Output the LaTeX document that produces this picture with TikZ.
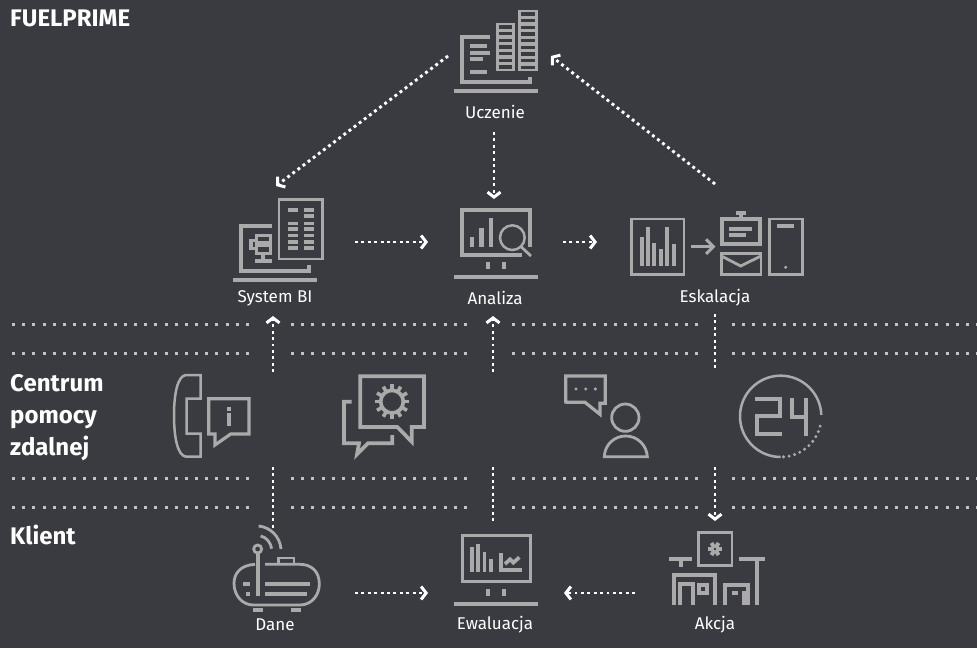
\documentclass[tikz,border=0pt]{standalone}
\usepackage{fontspec}
\setmainfont{Fira Sans}
\usetikzlibrary{arrows.meta}
\definecolor{bgc}{RGB}{58,59,64}
\definecolor{icc}{RGB}{170,170,170}
\definecolor{dotc}{RGB}{195,195,195}
\tikzset{
 ic/.style={draw=icc,line width=3.7pt,line join=miter},
 icthin/.style={draw=icc,line width=2.5pt,line join=miter},
 icf/.style={fill=icc},
 lab/.style={text=white,font=\fontsize{17}{17}\selectfont,inner sep=0pt,anchor=center},
 head/.style={text=white,font=\bfseries\fontsize{24}{24}\selectfont,inner sep=0pt,anchor=base west},
 flow/.style={draw=white,line width=2.9pt,dash pattern=on 2.9pt off 3.5pt},
 flowa/.style={flow,-{Straight Barb[length=5pt,width=13pt,line width=3pt]}},
 band/.style={draw=dotc,line width=3pt,dash pattern=on 3pt off 7.17pt},
 zm/.style={x=0.33333pt,y=-0.33333pt},
}
\begin{document}
\begin{tikzpicture}[x=1pt,y=-1pt]
\useasboundingbox (0,0) rectangle (977,648);
\fill[bgc] (0,0) rectangle (977,648);

% bands
\foreach \yy in {324.7,353.7,478.7,507.3}{
 \draw[band] (12,\yy) -- (252,\yy);
 \draw[band] (291,\yy) -- (473,\yy);
 \draw[band] (512,\yy) -- (698,\yy);
 \draw[band] (732,\yy) -- (977,\yy);
}

% headings
\node[head] (tfuel) at (10,26) {FUELPRIME};
\node[head] (tcentrum) at (10,391) {Centrum};
\node[head] (tpomocy) at (10,423) {pomocy};
\node[head] (tzdalnej) at (10,455) {zdalnej};
\node[head] (tklient) at (10,544) {Klient};

% labels
\node[lab] (uczenie) at (495,112) {Uczenie};
\node[lab] (systembi) at (275,298) {System BI};
\node[lab] (analiza) at (495,298) {Analiza};
\node[lab] (eskalacja) at (715,298) {Eskalacja};
\node[lab] (dane) at (275,625) {Dane};
\node[lab] (ewaluacja) at (495,625) {Ewaluacja};
\node[lab] (akcja) at (715,625) {Akcja};

% connector ends
\coordinate (uSW) at (448,56);
\coordinate (biN) at (276,186);
\coordinate (eN) at (715,184);
\coordinate (uNE) at (551,56);
\coordinate (uS) at (494,132);
\coordinate (aN) at (494,199);
\coordinate (biE) at (355,242);
\coordinate (aW) at (428,242);
\coordinate (aE) at (563,242);
\coordinate (eW) at (597,242);
\coordinate (dE) at (355,593);
\coordinate (ewW) at (428,593);
\coordinate (akW) at (635,593);
\coordinate (ewE) at (564,593);
\coordinate (c1a) at (273,372);
\coordinate (c1b) at (273,316);
\coordinate (c2a) at (493,372);
\coordinate (c2b) at (493,316);
\coordinate (c3a) at (715,314);
\coordinate (c3b) at (715,368);
\coordinate (d1a) at (273,467);
\coordinate (d1b) at (273,530);
\coordinate (d2a) at (493,467);
\coordinate (d2b) at (493,522);
\coordinate (d3a) at (715,467);
\coordinate (d3b) at (715,521);

\draw[flowa] (uSW) -- (biN);
\draw[flowa] (eN) -- (uNE);
\draw[flowa] (uS) -- (aN);
\draw[flowa] (biE) -- (aW);
\draw[flowa] (aE) -- (eW);
\draw[flowa] (dE) -- (ewW);
\draw[flowa] (akW) -- (ewE);
\draw[flowa] (c1a) -- (c1b);
\draw[flowa] (c2a) -- (c2b);
\draw[flow] (c3a) -- (c3b);
\draw[flow] (d1a) -- (d1b);
\draw[flow] (d2a) -- (d2b);
\draw[flowa] (d3a) -- (d3b);

% Uczenie icon
\begin{scope}[shift={(430,0)},zm]
 \draw[ic] (180,111) -- (96,111) -- (96,246) -- (300,246) -- (300,231);
 \fill[icf] (72,266) rectangle (324,279);
 \fill[icf] (120,133) rectangle (171,145);
 \fill[icf] (120,153) rectangle (180,165);
 \fill[icf] (120,172) rectangle (160,183);
 \fill[icf] (120,210) rectangle (171,222);
 \fill[icf] (198,68) rectangle (255,212);
 \fill[icf] (265,29) rectangle (323,212);
 \foreach \yy in {76,96,116,136,156,176,196}{
  \fill[bgc] (207,\yy) rectangle (246,\yy+10);
 }
 \foreach \yy in {37,57,77,97,117,137,157,177,197}{
  \fill[bgc] (274,\yy) rectangle (314,\yy+10);
 }
\end{scope}

% System BI + Analiza icons
\begin{scope}[shift={(220,190)},zm]
 \draw[ic] (155,107) -- (62,107) -- (62,242) -- (267,242) -- (267,225);
 \fill[icf] (40,264) rectangle (290,276);
 \draw[icthin] (177,29) rectangle (307,207);
 \foreach \yy in {55,95,112,131,150,168}{
  \fill[icf] (205,\yy) rectangle (235,\yy+11);
  \fill[icf] (252,\yy) rectangle (282,\yy+11);
 }
 \fill[icf] (252,72) rectangle (282,83);
 % tree
 \draw[ic,line width=3pt] (110,135) rectangle (152,158);
 \draw[ic,line width=3pt] (110,167) rectangle (152,190);
 \fill[icf] (88,146) rectangle (108,180);
 \fill[bgc] (98,156) rectangle (106,170);
 \fill[icf] (123,190) rectangle (136,207);
 \fill[icf] (105,207) rectangle (155,218);

 % Analiza
 \draw[ic] (905,195) -- (726,195) -- (726,60) -- (930,60) -- (930,170);
 \fill[icf] (750,142) rectangle (763,170);
 \fill[icf] (778,115) rectangle (791,170);
 \fill[icf] (806,85) rectangle (819,170);
 \draw[icthin] (877,143) circle[radius=37];
 \draw[ic,line width=2.8pt] (903,170) -- (933,198);
 \fill[icf] (798,217) rectangle (810,237);
 \fill[icf] (846,217) rectangle (858,237);
 \fill[icf] (702,255) rectangle (954,267);
\end{scope}

% Eskalacja icon
\begin{scope}[shift={(620,200)},zm]
 \draw[icthin] (34,57) rectangle (192,224);
 \fill[icf] (60,110) rectangle (72,197);
 \fill[icf] (78,80) rectangle (90,197);
 \fill[icf] (96,128) rectangle (108,197);
 \fill[icf] (116,147) rectangle (128,197);
 \fill[icf] (135,80) rectangle (147,197);
 \fill[icf] (155,132) rectangle (167,197);
 \draw[ic,line width=3pt] (214,140) -- (276,140);
 \draw[ic,line width=3pt] (258,118) -- (280,140) -- (258,162);
 \fill[icf] (348,33) rectangle (378,45);
 \fill[icf] (356,45) rectangle (370,60);
 \draw[ic] (306,57) rectangle (420,133);
 \fill[icf] (328,82) rectangle (395,93);
 \fill[icf] (328,100) rectangle (378,111);
 \draw[icthin,line width=2.8pt] (304,161) rectangle (423,224);
 \draw[icthin,line width=2.8pt] (304,168) -- (362,198) -- (423,168);
 \draw[icthin,line width=2.8pt] (448,57) rectangle (548,224);
 \fill[icf] (470,72) rectangle (522,84);
 \fill[icf] (497,202) circle[radius=5];
\end{scope}

% Phone + gear icons
\begin{scope}[shift={(160,365)},zm]
 \draw[icthin] (122,30) -- (78,30) .. controls (52,32) and (42,90) .. (42,150)
   .. controls (42,215) and (52,272) .. (78,275) -- (122,275) -- (122,206)
   -- (80,206) -- (80,101) -- (122,101) -- cycle;
 \draw[ic,line width=3.2pt] (146,212) -- (146,101) -- (267,101) -- (267,212) -- (267,207) -- (212,207) -- (165,240) -- (165,207) -- (146,207);
 \fill[icf] (200,125) rectangle (214,137);
 \fill[icf] (200,143) rectangle (214,183);

 \draw[ic] (601,186) -- (601,34) -- (792,34) -- (792,186) -- (755,186) -- (755,230) -- (712,186) -- cycle;
 \draw[ic] (575,110) -- (552,110) -- (552,235) -- (597,235) -- (591,268) -- (624,235) -- (697,235) -- (697,210);
 \draw[ic] (696,110) circle[radius=34];
 \foreach \a in {0,30,...,330}{
  \draw[icc,line width=3.6pt] (696,110) ++(\a:34) -- ++(\a:18);
 }
\end{scope}

% Person + clock icons
\begin{scope}[shift={(550,365)},zm]
 \draw[ic,line width=3.2pt] (47,115) -- (47,33) -- (166,33) -- (166,115) -- (150,115) -- (150,148) -- (105,112) -- (47,112);
 \foreach \xx in {78,107,136}{\fill[icf] (\xx,72) circle[radius=5];}
 \draw[icthin,line width=2.8pt] (226,158) circle[radius=41];
 \draw[icthin,line width=2.8pt] (163,275) -- (292,275) .. controls (290,240) and (262,213) .. (227,213) .. controls (192,213) and (164,240) .. (163,275) -- cycle;
 \draw[icthin] (692,276) arc[start angle=90,end angle=358,radius=122];
 \foreach \a in {14,22,...,86}{
  \fill[icf] ({692+122*cos(\a)},{154+122*sin(\a)}) circle[radius=5];
 }
 \draw[ic] (615,103) -- (690,103) -- (690,153) -- (620,153) -- (620,207) -- (695,207);
 \draw[ic] (727,98) -- (727,155) -- (768,155);
 \draw[ic] (768,98) -- (768,213);
\end{scope}

% Dane + Ewaluacja icons
\begin{scope}[shift={(220,520)},zm]
 \draw[icthin,line width=2.8pt] (105,133) .. controls (62,135) and (42,160) .. (42,190)
   .. controls (42,230) and (70,255) .. (100,255) -- (240,255)
   .. controls (275,255) and (298,225) .. (298,192) .. controls (298,155) and (275,133) .. (240,133) -- (135,133);
 \draw[icthin,line width=2.8pt] (175,131) -- (175,114) -- (222,114) -- (222,131);
 \draw[ic] (113,100) -- (113,228);
 \draw[icthin,line width=2.8pt] (113,87) circle[radius=12];
 \draw[icthin,line width=2.8pt] (122,48) .. controls (140,52) and (152,68) .. (155,86);
 \draw[icthin,line width=2.8pt] (116,18) .. controls (152,22) and (180,50) .. (183,87);
 \fill[icf] (135,186) rectangle (270,198);
 \fill[icf] (135,216) rectangle (260,228);
 \fill[icf] (70,186) rectangle (90,198);
 \fill[icf] (78,216) rectangle (90,228);
 \fill[icf] (100,265) rectangle (130,276);
 \fill[icf] (213,265) rectangle (243,276);

 \draw[ic,line width=3.2pt] (727,47) rectangle (931,185);
 \fill[icf] (750,82) rectangle (761,155);
 \fill[icf] (768,72) rectangle (779,155);
 \fill[icf] (788,95) rectangle (799,155);
 \fill[icf] (808,118) rectangle (819,155);
 \draw[ic] (842,100) -- (842,150) -- (905,150);
 \draw[ic] (855,132) -- (870,118) -- (880,128) -- (898,112);
 \fill[icf] (798,207) rectangle (810,227);
 \fill[icf] (846,207) rectangle (858,227);
 \fill[icf] (702,246) rectangle (954,258);
\end{scope}

% Akcja icon
\begin{scope}[shift={(640,520)},zm]
 \draw[icthin,line width=2.8pt] (175,37) rectangle (276,137);
 \foreach \a in {0,60,120}{
  \draw[icc,line width=4pt] (225,87) ++(\a:-21) -- ++(\a:42);
 }
 \fill[bgc] (225,87) circle[radius=4];
 \fill[icf] (87,110) rectangle (157,123);
 \fill[icf] (116,123) rectangle (128,140);
 \fill[icf] (297,110) rectangle (375,123);
 \fill[icf] (346,123) rectangle (358,255);
 \fill[icf] (95,158) rectangle (230,170);
 \fill[icf] (97,170) rectangle (108,255);
 \draw[ic] (120,255) -- (120,192) -- (160,192) -- (160,255);
 \draw[ic] (178,195) rectangle (200,220);
 \fill[icf] (218,170) rectangle (230,255);
 \draw[ic] (256,255) -- (256,195) -- (318,195);
 \fill[icf] (275,212) rectangle (295,224);
 \draw[ic] (312,212) -- (312,250) -- (323,250) -- (323,190);
\end{scope}
\end{tikzpicture}
\end{document}
